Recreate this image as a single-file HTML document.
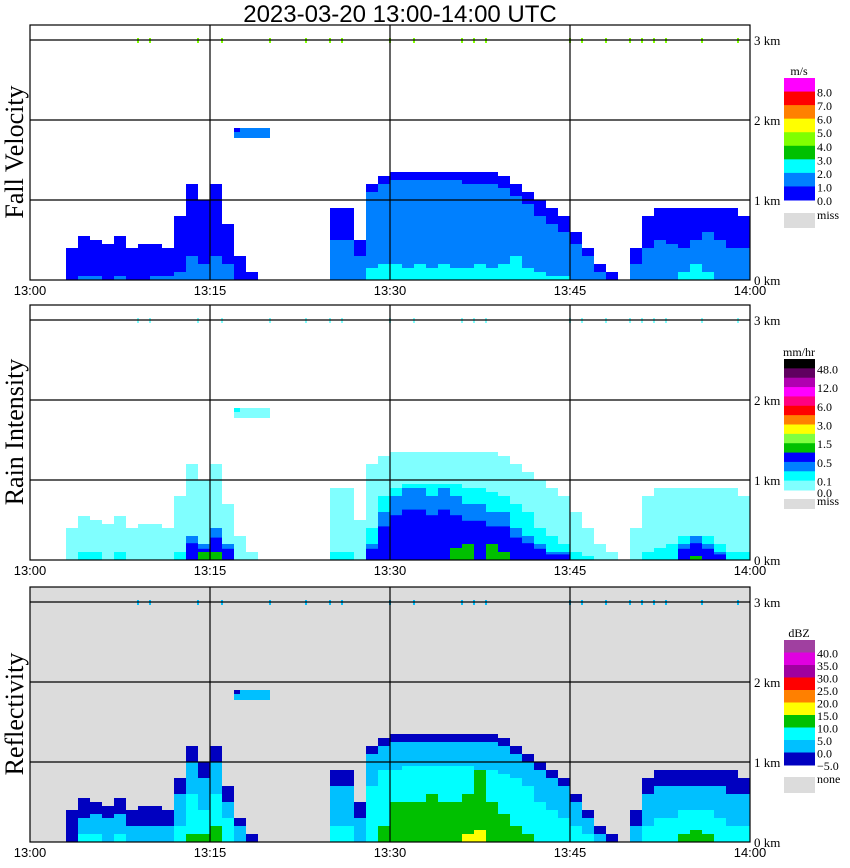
<!DOCTYPE html>
<html><head><meta charset="utf-8">
<style>
body{margin:0;background:#fff;width:850px;height:868px;overflow:hidden;font-family:"Liberation Serif",serif;}
svg{display:block}
</style></head>
<body>
<svg id="chart" width="850" height="868" xmlns="http://www.w3.org/2000/svg">
<text x="400" y="22" text-anchor="middle" font-size="24" font-family="Liberation Sans, sans-serif">2023-03-20  13:00-14:00 UTC</text>
</svg>
<script>
// per-minute data (minutes 0..59 after 13:00), heights in km
const minutes = Array.from({length:60},(_,i)=>i);
const echoTop = [0,0,0,0.4,0.55,0.5,0.45,0.55,0.4,0.45,0.45,0.4,0.8,1.2,1.0,1.2,0.7,0.3,0.1,0,0,0,0,0,0,0.9,0.9,0.5,1.2,1.3,1.35,1.35,1.35,1.35,1.35,1.35,1.35,1.35,1.35,1.3,1.2,1.1,1.0,0.9,0.8,0.6,0.4,0.2,0.1,0,0.4,0.8,0.9,0.9,0.9,0.9,0.9,0.9,0.9,0.8];
const fvAzure = [0,0,0,0,0.05,0.05,0,0.05,0,0,0.05,0.05,0.1,0.3,0.2,0.3,0.2,0,0,0,0,0,0,0,0,0.5,0.5,0.3,1.1,1.2,1.25,1.25,1.25,1.25,1.25,1.25,1.2,1.2,1.2,1.15,1.05,0.95,0.8,0.7,0.6,0.45,0.3,0.1,0,0,0.2,0.4,0.5,0.45,0.4,0.5,0.6,0.5,0.4,0.4];
const fvCyan = [0,0,0,0,0,0,0,0,0,0,0,0,0,0,0,0,0,0,0,0,0,0,0,0,0,0,0,0,0.15,0.2,0.2,0.15,0.2,0.15,0.2,0.15,0.15,0.2,0.15,0.2,0.3,0.15,0.1,0.05,0.05,0,0,0,0,0,0,0,0,0,0.1,0.2,0.1,0,0,0];
const riCyan = [0,0,0,0,0.1,0.1,0,0.1,0,0,0,0,0.1,0.3,0.2,0.4,0.2,0,0,0,0,0,0,0,0,0.1,0.1,0,0.4,0.8,0.9,0.95,0.95,0.95,0.95,0.95,0.9,0.9,0.85,0.8,0.7,0.6,0.4,0.3,0.2,0.1,0.05,0,0,0,0,0.1,0.15,0.2,0.3,0.3,0.3,0.2,0.1,0.1];
const riBlue = [0,0,0,0,0,0,0,0,0,0,0,0,0,0.3,0.2,0.4,0.2,0,0,0,0,0,0,0,0,0,0,0,0.2,0.6,0.8,0.9,0.9,0.8,0.9,0.8,0.7,0.7,0.6,0.6,0.4,0.3,0.2,0.1,0.1,0,0,0,0,0,0,0,0,0,0.2,0.3,0.2,0.1,0,0];
const riGreen = [0,0,0,0,0,0,0,0,0,0,0,0,0,0,0.1,0.1,0,0,0,0,0,0,0,0,0,0,0,0,0,0,0,0,0,0,0,0.15,0.2,0,0.2,0.1,0,0,0,0,0,0,0,0,0,0,0,0,0,0,0,0.05,0,0,0,0];
const zAzure = [0,0,0,0,0.3,0.35,0.3,0.35,0.2,0.2,0.2,0.2,0.6,1.0,0.8,1.0,0.5,0.2,0,0,0,0,0,0,0,0.7,0.7,0.3,1.1,1.2,1.25,1.25,1.25,1.25,1.25,1.25,1.25,1.25,1.25,1.2,1.1,1.0,0.9,0.8,0.7,0.5,0.3,0.1,0,0,0.2,0.6,0.7,0.7,0.7,0.7,0.7,0.7,0.6,0.6];
const zCyan = [0,0,0,0,0.1,0.1,0,0.1,0,0,0,0,0.2,0.6,0.4,0.6,0.3,0,0,0,0,0,0,0,0,0.2,0.2,0,0.7,0.9,0.9,0.95,0.95,0.95,0.95,0.95,0.95,0.9,0.9,0.85,0.8,0.7,0.5,0.4,0.3,0.2,0.1,0,0,0,0,0.2,0.3,0.3,0.4,0.4,0.4,0.3,0.2,0.2];
const zGreen = [0,0,0,0,0,0,0,0,0,0,0,0,0,0.1,0.1,0.2,0,0,0,0,0,0,0,0,0,0,0,0,0,0.2,0.5,0.5,0.5,0.6,0.5,0.5,0.6,0.9,0.5,0.35,0.2,0.1,0,0,0,0,0,0,0,0,0,0,0,0,0.1,0.15,0.1,0,0,0];
const zYellow = [0,0,0,0,0,0,0,0,0,0,0,0,0,0,0,0,0,0,0,0,0,0,0,0,0,0,0,0,0,0,0,0,0,0,0,0,0.1,0.15,0,0,0,0,0,0,0,0,0,0,0,0,0,0,0,0,0,0,0,0,0,0];
const timeTicks = ["13:00","13:15","13:30","13:45","14:00"];
const heightTicks = [0,1,2,3];
const panelTitles = ["Fall Velocity","Rain Intensity","Reflectivity"];
const fvLegendLabels = ["8.0","7.0","6.0","5.0","4.0","3.0","2.0","1.0","0.0"];
const riLegendLabels = ["48.0","12.0","6.0","3.0","1.5","0.5","0.1","0.0"];
const zLegendLabels = ["40.0","35.0","30.0","25.0","20.0","15.0","10.0","5.0","0.0","\u22125.0"];

const svg = document.getElementById('chart');
const NS = 'http://www.w3.org/2000/svg';
const X0=30, X1=750, PX_PER_MIN=12;
const panelOffsets=[0,280,562];
function X(m){return X0+m*PX_PER_MIN;}
function Y(km,p){return 280+panelOffsets[p]-km*80;}
function mk(tag,attrs,parent){const e=document.createElementNS(NS,tag);for(const k in attrs)e.setAttribute(k,attrs[k]);(parent||svg).appendChild(e);return e;}

const panels=[
 {bg:'#ffffff',layers:[[echoTop,'#0000ff'],[fvAzure,'#0080ff'],[fvCyan,'#00ffff']],clump:['#0080ff','#0000ff']},
 {bg:'#ffffff',layers:[[echoTop,'#80ffff'],[riCyan,'#00ffff'],[riBlue,'#0080ff'],[riBlue.map(v=>v*0.7),'#0000ff'],[riGreen,'#00c000']],clump:['#80ffff','#00ffff']},
 {bg:'#dcdcdc',layers:[[echoTop,'#0000c0'],[zAzure,'#00c0ff'],[zCyan,'#00ffff'],[zGreen,'#00c000'],[zYellow,'#ffff00']],clump:['#00c0ff','#0000c0']}
];
const names=['fall-velocity','rain-intensity','reflectivity'];

panels.forEach((P,p)=>{
 const off=panelOffsets[p];
 const g=mk('g',{});
 
 
 mk('rect',{x:X0,y:25+off,width:X1-X0,height:255,fill:P.bg},g);
 P.layers.forEach(([arr,col])=>{
  minutes.forEach(m=>{
   const h=arr[m]; if(!h) return;
   const r=mk('rect',{x:X(m),y:Y(h,p),width:PX_PER_MIN,height:Y(0,p)-Y(h,p),fill:col},g);
   
   
  });
 });
 mk('rect',{x:234,y:Y(1.9,p),width:36,height:10,fill:P.clump[0]},g);
 mk('rect',{x:234,y:Y(1.9,p),width:6,height:4,fill:P.clump[1]},g);
 [9,10,14,16,20,23,25,26,30,32,36,37,38,45,46,48,50,51,52,53,56,59].forEach(m=>mk('rect',{x:X(m)-1,y:Y(3,p)-2,width:2,height:5,fill:p===0?'#80ff00':(p===1?'#80ffff':'#00c0ff')},g));
 heightTicks.slice(1).forEach(k=>mk('line',{x1:X0,x2:X1,y1:Y(k,p),y2:Y(k,p),stroke:'#000','stroke-width':1.2},g));
 [15,30,45].forEach(m=>mk('line',{x1:X(m),x2:X(m),y1:25+off,y2:280+off,stroke:'#000','stroke-width':1.2},g));
 mk('rect',{x:X0,y:25+off,width:X1-X0,height:255,fill:'none',stroke:'#000','stroke-width':1.2},g);
 timeTicks.forEach((t,i)=>{const tx=mk('text',{x:X(i*15),y:295+off,'text-anchor':'middle','font-size':13,'font-family':'Liberation Sans, sans-serif'},g);tx.textContent=t;
  });
 heightTicks.forEach(k=>{const tx=mk('text',{x:754,y:Y(k,p)+5,'font-size':13},g);tx.textContent=k+' km';
  });
 const tt=mk('text',{x:0,y:0,'font-size':26,'text-anchor':'middle',transform:`translate(23,${152+off}) rotate(-90)`},g);
 tt.textContent=panelTitles[p];
 
 
});

function legend(colors,top,bottom,labels,unit,missY,missH,missText,lblOffset){
 const g=mk('g',{});
 
 
 const h=(bottom-top)/colors.length;
 colors.forEach((c,i)=>mk('rect',{x:784,y:top+i*h,width:31,height:h+0.5,fill:c},g));
 const u=mk('text',{x:799,y:top-3,'text-anchor':'middle','font-size':12},g);u.textContent=unit;
 labels.forEach((l,i)=>{const t=mk('text',{x:817,y:top+(i+lblOffset)*h+5,'font-size':12},g);t.textContent=l;
  });
 mk('rect',{x:784,y:missY,width:31,height:missH,fill:'#dcdcdc'},g);
 const m=mk('text',{x:817,y:missY+6,'font-size':12},g);m.textContent=missText;
}
legend(['#ff00ff','#ff0000','#ff8000','#ffff00','#80ff00','#00c000','#00ffff','#0080ff','#0000ff'],78,200,fvLegendLabels,'m/s',213,15,'miss',1);
const riCols=['#000000','#600060','#b000b0','#ff00ff','#ff0080','#ff0000','#ff8000','#ffff00','#80ff40','#00c000','#0000ff','#0080ff','#00ffff','#80ffff'];
legend(riCols,359,490,[],'mm/hr',499,10,'miss',0);
(function(){const h=131/14;riLegendLabels.forEach((l,i)=>{const y=i<7?359+(2*i+1)*h+5:490+7;const t=mk('text',{x:817,y:y,'font-size':12});t.textContent=l;
 });})();
legend(['#a040a0','#e000e0','#a000a0','#ff0000','#ff8000','#ffff00','#00c000','#00ffff','#00c0ff','#0000c0'],640,765,zLegendLabels,'dBZ',777,16,'none',1);
</script>
</body></html>
